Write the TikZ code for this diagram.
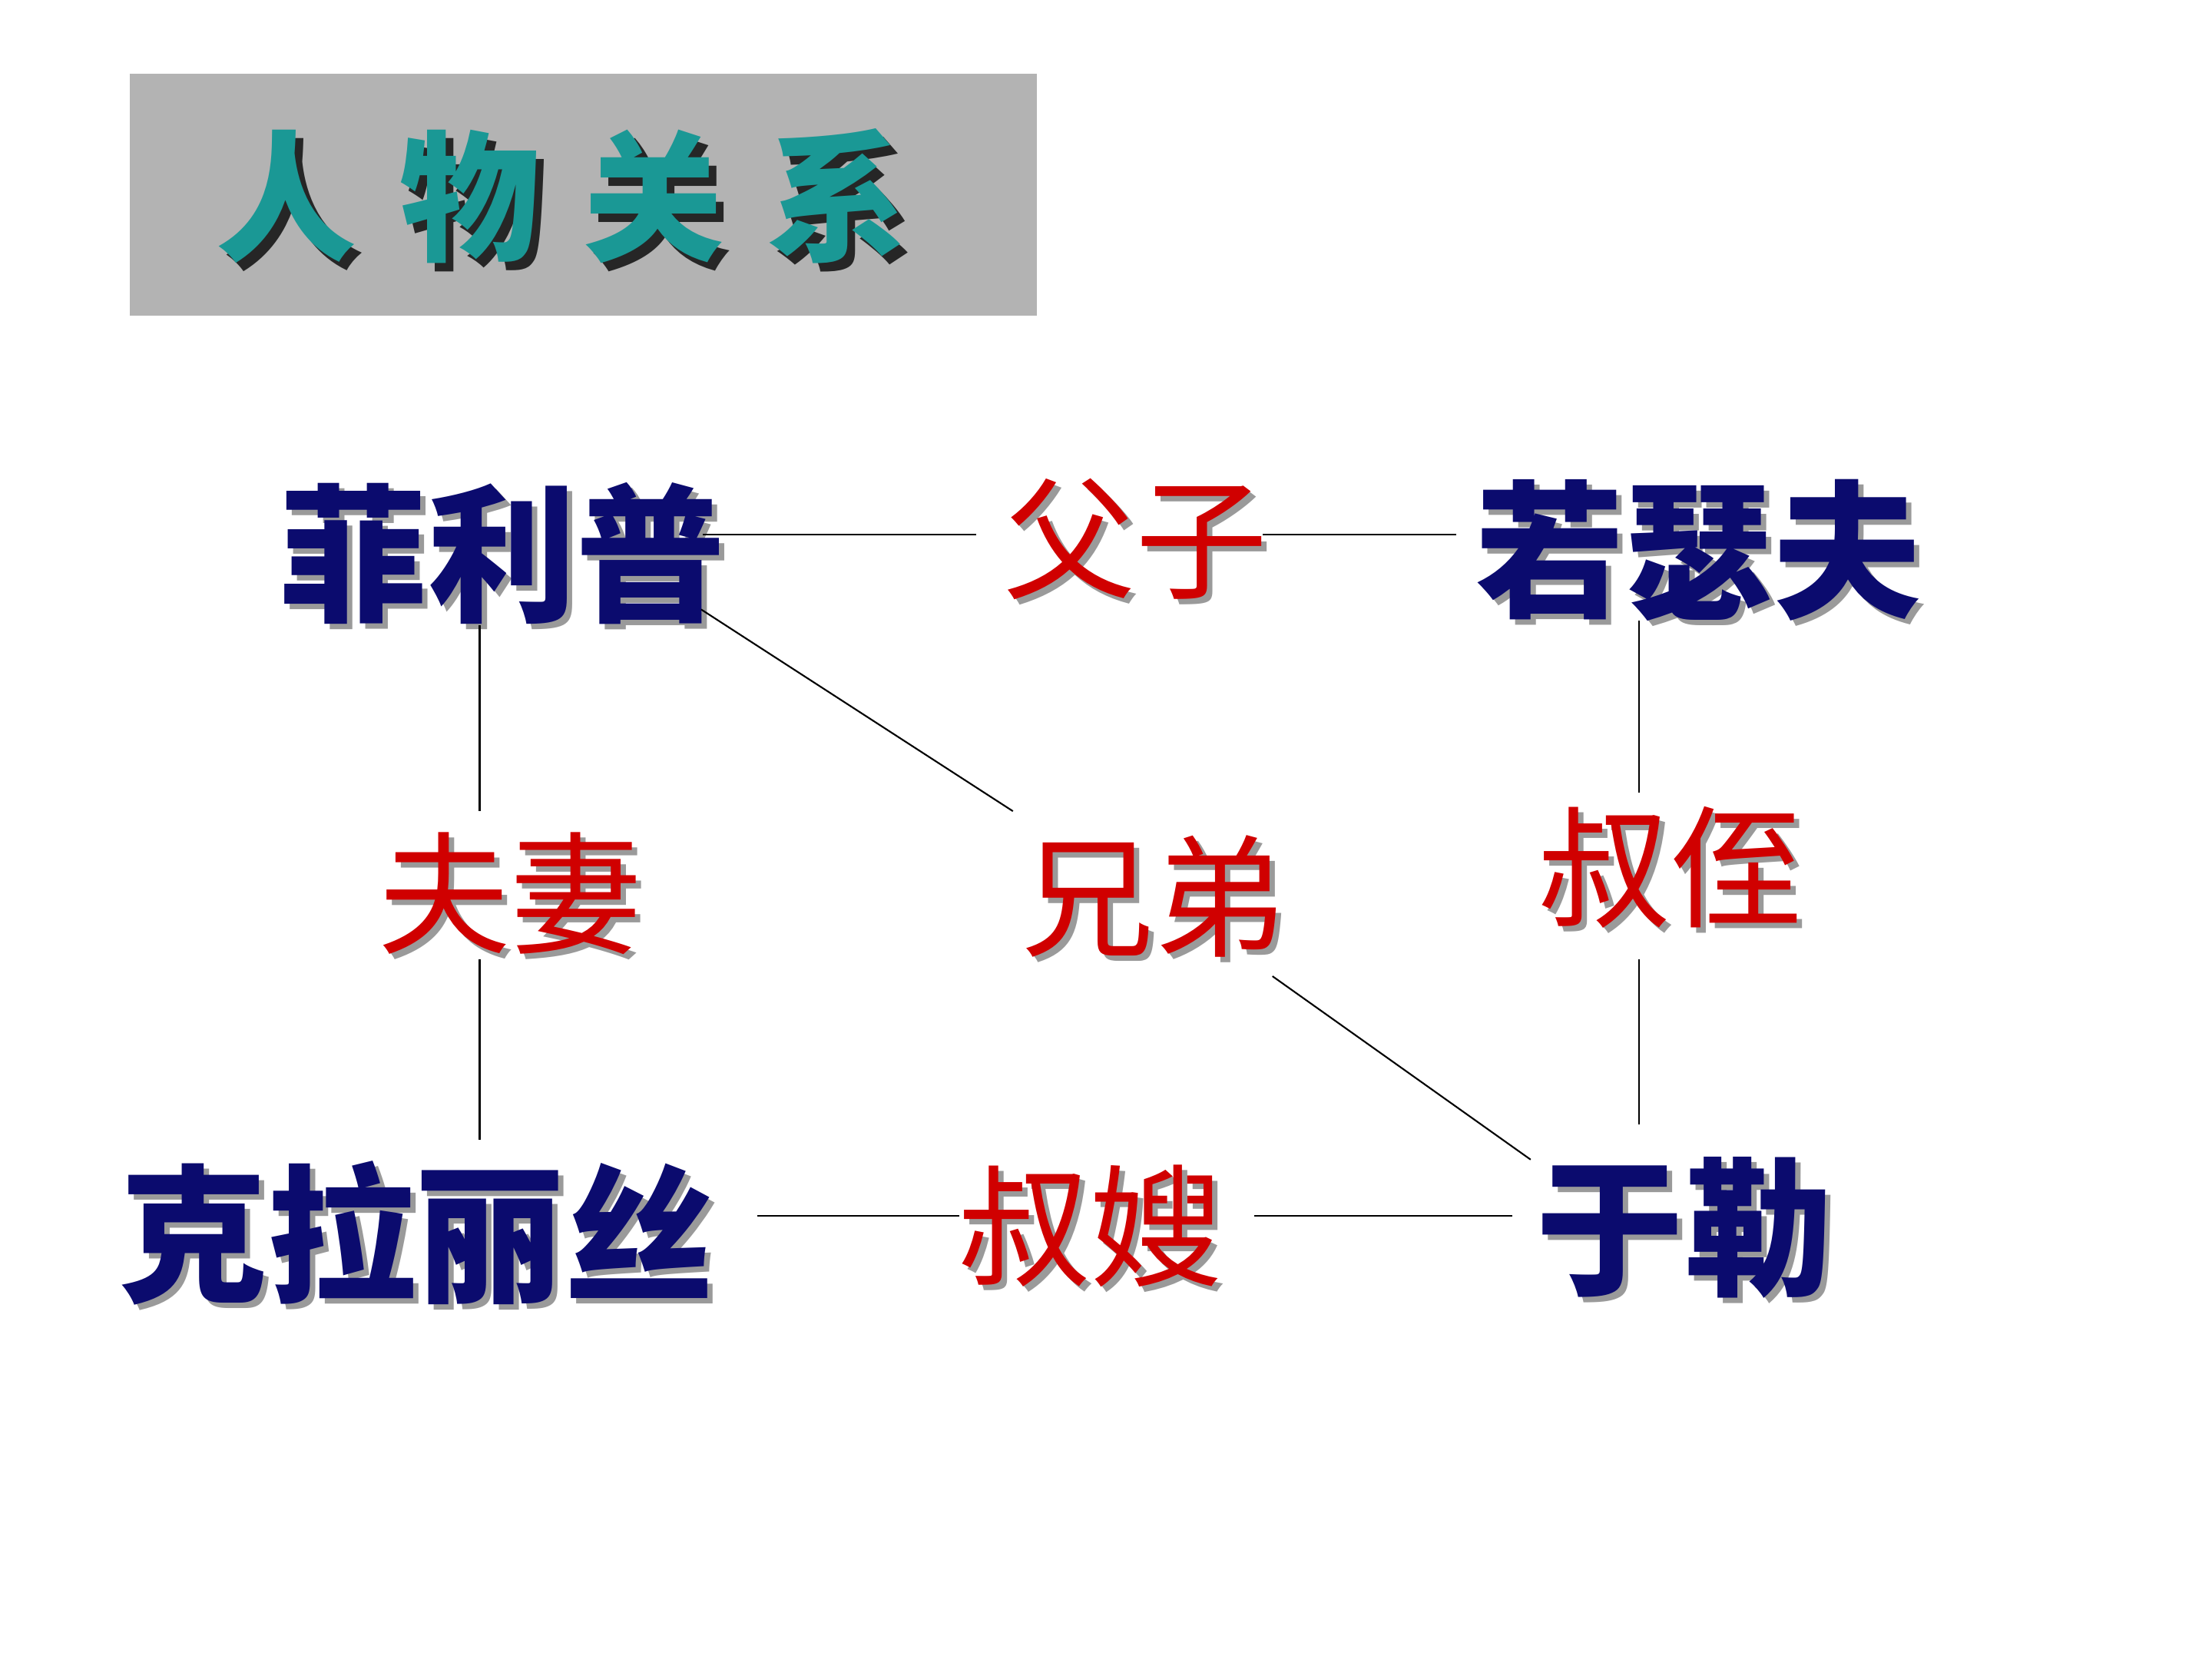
\documentclass[tikz,border=0pt]{standalone}
\usepackage{fontspec}
\newfontfamily\cjk{Noto Sans CJK SC}
\definecolor{navy}{HTML}{0B0B6E}
\definecolor{rred}{HTML}{D00000}
\definecolor{teal2}{HTML}{1A9895}
\definecolor{boxgray}{HTML}{B3B3B3}
\definecolor{shgray}{HTML}{9A9A9A}
\newcommand\shtxt[4]{\makebox[0pt][l]{\hspace{#4}\raisebox{-#4}{\color{#1}#3}}{\color{#2}#3}}
\tikzset{
  namebox/.style={inner sep=0pt, font=\cjk\bfseries\fontsize{55pt}{60pt}\selectfont},
  relbox/.style={inner sep=0pt, font=\cjk\fontsize{49pt}{54pt}\selectfont},
  titlebox/.style={inner sep=0pt, font=\cjk\bfseries\fontsize{52pt}{56pt}\selectfont},
  link/.style={draw=black, line width=0.6pt}
}
\begin{document}
\begin{tikzpicture}[x=0.18367mm, y=-0.18367mm]
\useasboundingbox (0,0) rectangle (1568,1176);
\fill[white] (0,0) rectangle (1568,1176);
% title
\fill[boxgray] (92,52) rectangle (735,224);
\node[titlebox] (title) at (398,142) {\shtxt{black!85}{teal2}{人\hspace{16pt}物\hspace{16pt}关\hspace{16pt}系}{3pt}};
% names
\node[namebox] (fei) at (356,394) {\shtxt{shgray}{navy}{菲利普}{2pt}};
\node[namebox] (ruo) at (1204,392) {\shtxt{shgray}{navy}{若瑟夫}{2pt}};
\node[namebox] (ke) at (295,876) {\shtxt{shgray}{navy}{克拉丽丝}{2pt}};
\node[namebox] (yu) at (1194,872) {\shtxt{shgray}{navy}{于勒}{2pt}};
% relations
\node[relbox] (fuzi) at (805,384) {\shtxt{shgray}{rred}{父子}{2pt}};
\node[relbox] (fuqi) at (362,635) {\shtxt{shgray}{rred}{夫妻}{2pt}};
\node[relbox] (xiongdi) at (818,637) {\shtxt{shgray}{rred}{兄弟}{2pt}};
\node[relbox] (shuzhi) at (1184,617) {\shtxt{shgray}{rred}{叔侄}{2pt}};
\node[relbox] (shusao) at (773,871) {\shtxt{shgray}{rred}{叔嫂}{2pt}};
% connector ends
\coordinate (feiE) at (498,379);
\coordinate (fuziW) at (692,379);
\coordinate (fuziE) at (895,379);
\coordinate (ruoW) at (1032,379);
\coordinate (feiS) at (340,443);
\coordinate (fuqiN) at (340,575);
\coordinate (fuqiS) at (340,680);
\coordinate (keN) at (340,808);
\coordinate (feiSE) at (497,432);
\coordinate (xiongdiNW) at (718,575);
\coordinate (xiongdiSE) at (902,692);
\coordinate (yuNW) at (1085,822);
\coordinate (ruoS) at (1162,440);
\coordinate (shuzhiN) at (1162,562);
\coordinate (shuzhiS) at (1162,680);
\coordinate (yuN) at (1162,797);
\coordinate (keE) at (537,862);
\coordinate (shusaoW) at (680,862);
\coordinate (shusaoE) at (889,862);
\coordinate (yuW) at (1072,862);
\draw[link] (feiE) -- (fuziW);
\draw[link] (fuziE) -- (ruoW);
\draw[link] (feiS) -- (fuqiN);
\draw[link] (fuqiS) -- (keN);
\draw[link] (feiSE) -- (xiongdiNW);
\draw[link] (xiongdiSE) -- (yuNW);
\draw[link] (ruoS) -- (shuzhiN);
\draw[link] (shuzhiS) -- (yuN);
\draw[link] (keE) -- (shusaoW);
\draw[link] (shusaoE) -- (yuW);
\end{tikzpicture}
\end{document}
